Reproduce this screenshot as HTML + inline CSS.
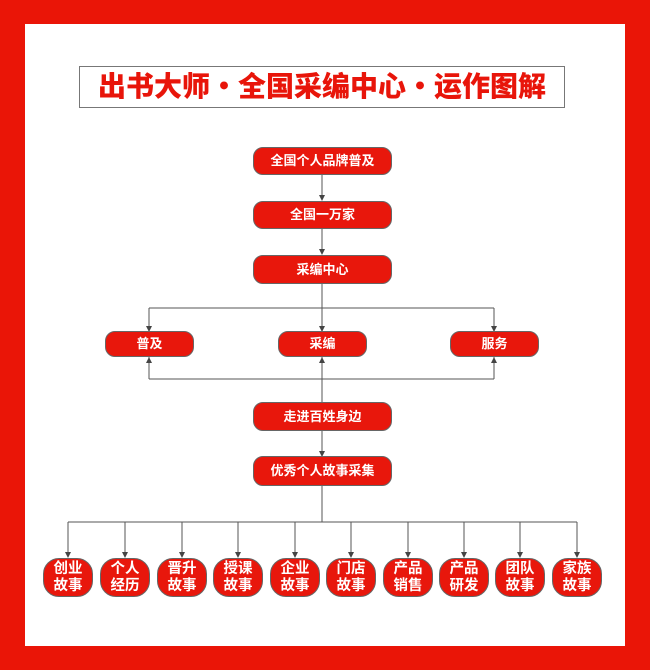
<!DOCTYPE html>
<html><head><meta charset="utf-8"><style>
body{margin:0;width:650px;height:670px;background:#ea1507;position:relative;overflow:hidden;font-family:"Liberation Sans","Noto Sans CJK SC",sans-serif}
.in{position:absolute;left:25px;top:24px;width:600px;height:622px;background:#fff}
.t{position:absolute;left:79px;top:66px;width:484px;height:40px;border:1px solid #777;color:#e8150a;font-weight:900;font-size:28px;line-height:40px;text-align:center;letter-spacing:0px;white-space:nowrap}
.n{position:absolute;background:#e8170c;border:1px solid #666;border-radius:10px;color:#fff;font-weight:bold;font-size:13px;text-align:center;box-sizing:border-box}
.s{width:50px;height:39px;top:558px;border-radius:16px;font-size:14.5px;line-height:17px;padding-top:2px}
svg{position:absolute;left:0;top:0}
</style></head><body>
<div class="in"></div>
<div class="t">出书大师・全国采编中心・运作图解</div>
<svg width="650" height="670">
<g stroke="#555" stroke-width="1" fill="none">
<line x1="322" y1="175" x2="322" y2="200"/>
<line x1="322" y1="229" x2="322" y2="254"/>
<line x1="322" y1="284" x2="322" y2="402"/>
<line x1="149" y1="308" x2="494" y2="308"/>
<line x1="149" y1="308" x2="149" y2="331"/>
<line x1="494" y1="308" x2="494" y2="331"/>
<line x1="149" y1="379" x2="494" y2="379"/>
<line x1="149" y1="357" x2="149" y2="379"/>
<line x1="494" y1="357" x2="494" y2="379"/>
<line x1="322" y1="431" x2="322" y2="456"/>
<line x1="322" y1="486" x2="322" y2="522"/>
<line x1="68" y1="522" x2="577" y2="522"/>
</g>
<g fill="#444">
<path d="M319,195 L325,195 L322,201z"/>
<path d="M319,249 L325,249 L322,255z"/>
<path d="M319,451 L325,451 L322,457z"/>
<path d="M146,326 L152,326 L149,332z"/>
<path d="M319,326 L325,326 L322,332z"/>
<path d="M491,326 L497,326 L494,332z"/>
<path d="M146,363 L152,363 L149,357z"/>
<path d="M319,363 L325,363 L322,357z"/>
<path d="M491,363 L497,363 L494,357z"/>
</g>
<g stroke="#555">
<line x1="68" y1="522" x2="68" y2="556"/><line x1="125" y1="522" x2="125" y2="556"/><line x1="182" y1="522" x2="182" y2="556"/><line x1="238" y1="522" x2="238" y2="556"/><line x1="295" y1="522" x2="295" y2="556"/><line x1="351" y1="522" x2="351" y2="556"/><line x1="408" y1="522" x2="408" y2="556"/><line x1="464" y1="522" x2="464" y2="556"/><line x1="520" y1="522" x2="520" y2="556"/><line x1="577" y1="522" x2="577" y2="556"/>
</g>
<g fill="#444">
<path d="M65,552 h6 l-3,6z"/><path d="M122,552 h6 l-3,6z"/><path d="M179,552 h6 l-3,6z"/><path d="M235,552 h6 l-3,6z"/><path d="M292,552 h6 l-3,6z"/><path d="M348,552 h6 l-3,6z"/><path d="M405,552 h6 l-3,6z"/><path d="M461,552 h6 l-3,6z"/><path d="M517,552 h6 l-3,6z"/><path d="M574,552 h6 l-3,6z"/>
</g>
</svg>
<div class="n" style="left:253px;top:147px;width:139px;height:28px;line-height:26px">全国个人品牌普及</div>
<div class="n" style="left:253px;top:201px;width:139px;height:28px;line-height:26px">全国一万家</div>
<div class="n" style="left:253px;top:255px;width:139px;height:29px;line-height:27px">采编中心</div>
<div class="n" style="left:105px;top:331px;width:89px;height:26px;line-height:24px">普及</div>
<div class="n" style="left:278px;top:331px;width:89px;height:26px;line-height:24px">采编</div>
<div class="n" style="left:450px;top:331px;width:89px;height:26px;line-height:24px">服务</div>
<div class="n" style="left:253px;top:402px;width:139px;height:29px;line-height:27px">走进百姓身边</div>
<div class="n" style="left:253px;top:456px;width:139px;height:30px;line-height:28px">优秀个人故事采集</div>
<div class="n s" style="left:43px">创业<br>故事</div>
<div class="n s" style="left:100px">个人<br>经历</div>
<div class="n s" style="left:157px">晋升<br>故事</div>
<div class="n s" style="left:213px">授课<br>故事</div>
<div class="n s" style="left:270px">企业<br>故事</div>
<div class="n s" style="left:326px">门店<br>故事</div>
<div class="n s" style="left:383px">产品<br>销售</div>
<div class="n s" style="left:439px">产品<br>研发</div>
<div class="n s" style="left:495px">团队<br>故事</div>
<div class="n s" style="left:552px">家族<br>故事</div>
</body></html>
